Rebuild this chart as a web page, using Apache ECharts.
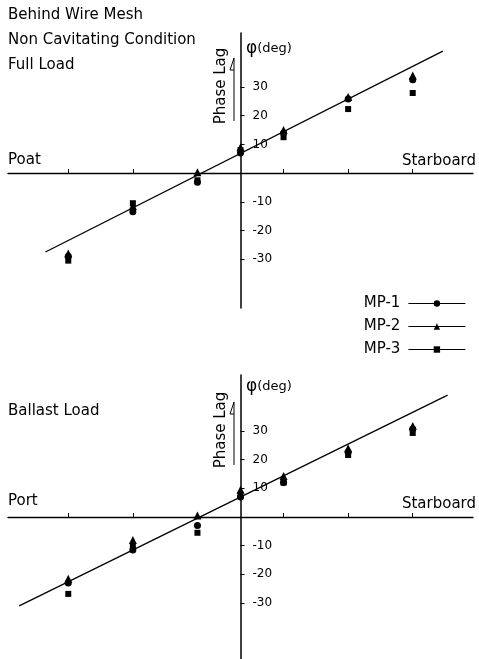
<!DOCTYPE html>
<html>
<head>
<meta charset="utf-8">
<script src="https://cdn.jsdelivr.net/npm/echarts@6/dist/echarts.min.js"></script>
<style>
html,body{margin:0;padding:0;background:#fff;}
#c{width:479px;height:659px;}
</style>
</head>
<body>
<div id="c"></div>
<script>
// Measurement positions (horizontal, port negative / starboard positive)
const xPos = [-40, -25, -10, 0, 10, 25, 40];
const xTicks = [-40, -25, -10, 10, 25, 40];
const yTicks = [-30, -20, -10, 10, 20, 30];
const seriesNames = ['MP-1', 'MP-2', 'MP-3'];

// Full Load (upper chart)
const fullMP1 = [-29, -13.5, -3.2, 7, 14, 25.8, 32.5];
const fullMP2 = [-28, -11.5, 0.3, 9, 15, 26.5, 34];
const fullMP3 = [-30.5, -10.5, -2.5, 8, 12.5, 22.3, 27.9];
const fullFitX = [-45.3, 47];
const fullFitY = [-27.5, 42.5];

// Ballast Load (lower chart)
const ballMP1 = [-23, -11.5, -3, 7, 12, 22.6, 30.7];
const ballMP2 = [-21.5, -8, 0.5, 9.5, 14.3, 24, 31.7];
const ballMP3 = [-26.8, -10, -5.5, 7.5, 12, 21.6, 29.3];
const ballFitX = [-51.4, 48.1];
const ballFitY = [-31, 42.5];

const FONT = 'DejaVu Sans';
const symbols = ['circle', 'triangle', 'rect'];
const symbolSizes = [7, 8, 6];

function pairs(xs, ys) { return xs.map((x, i) => [x, ys[i]]); }

function xAxisCfg(idx) {
  return {
    type: 'value', gridIndex: idx, min: -54, max: 54,
    axisLine: { onZero: true, lineStyle: { color: '#000', width: 1.3 } },
    axisTick: { show: true, inside: true, length: 4, customValues: xTicks, lineStyle: { color: '#000', width: 1 } },
    axisLabel: { show: false },
    splitLine: { show: false }
  };
}
function yAxisCfg(idx, min, max) {
  return {
    type: 'value', gridIndex: idx, min: min, max: max,
    position: 'left', offset: -232.5,
    axisLine: { onZero: false, lineStyle: { color: '#000', width: 1.5 } },
    axisTick: { show: true, inside: true, length: 4, customValues: yTicks, lineStyle: { color: '#000', width: 1 } },
    axisLabel: { show: true, inside: true, margin: 12, customValues: yTicks, color: '#000', fontFamily: FONT, fontSize: 12 },
    splitLine: { show: false }
  };
}

const series = [];
[[fullMP1, fullMP2, fullMP3], [ballMP1, ballMP2, ballMP3]].forEach((set, g) => {
  set.forEach((vals, k) => {
    series.push({
      name: seriesNames[k], type: 'line', xAxisIndex: g, yAxisIndex: g,
      data: pairs(xPos, vals),
      symbol: symbols[k], symbolSize: symbolSizes[k], showSymbol: true,
      itemStyle: { color: '#000', borderWidth: 0 },
      lineStyle: { opacity: 0 },
      z: 3 + k
    });
  });
});
series.push({
  type: 'line', xAxisIndex: 0, yAxisIndex: 0, data: pairs(fullFitX, fullFitY),
  symbol: 'none', lineStyle: { color: '#000', width: 1.3 }, silent: true, z: 2
});
series.push({
  type: 'line', xAxisIndex: 1, yAxisIndex: 1, data: pairs(ballFitX, ballFitY),
  symbol: 'none', lineStyle: { color: '#000', width: 1.3 }, silent: true, z: 2
});

function txt(x, y, s, opts) {
  return {
    type: 'text', x: x, y: y,
    style: Object.assign({ text: s, fill: '#000', font: '15px "' + FONT + '"', align: 'left', verticalAlign: 'middle' }, opts || {})
  };
}
function phiLabel(x, y) {
  return {
    type: 'text', x: x, y: y,
    style: {
      text: '{p|φ}{d|(deg)}', fill: '#000', verticalAlign: 'middle', align: 'left',
      rich: { p: { fontFamily: FONT, fontSize: 17, fill: '#000' }, d: { fontFamily: FONT, fontSize: 13, fill: '#000' } }
    }
  };
}
function phaseLag(cx, cy) {
  return [
    { type: 'text', x: cx, y: cy, rotation: Math.PI / 2,
      style: { text: 'Phase Lag', fill: '#000', font: '15px "' + FONT + '"', align: 'center', verticalAlign: 'middle' } },
    { type: 'line', shape: { x1: 234, y1: cy + 35, x2: 234, y2: cy - 28 }, style: { stroke: '#000', lineWidth: 1 } },
    { type: 'polyline', shape: { points: [[234, cy - 28], [230, cy - 16], [234, cy - 16]] }, style: { stroke: '#000', lineWidth: 1, fill: null } }
  ];
}

const graphic = [
  txt(8, 15, 'Behind Wire Mesh'),
  txt(8, 40, 'Non Cavitating Condition'),
  txt(8, 65, 'Full Load'),
  txt(8, 160, 'Poat'),
  txt(476, 161, 'Starboard', { align: 'right' }),
  phiLabel(246, 49),
  txt(8, 411, 'Ballast Load'),
  txt(8, 501, 'Port'),
  txt(476, 504, 'Starboard', { align: 'right' }),
  phiLabel(246, 387)
].concat(phaseLag(221, 86)).concat(phaseLag(221, 430));

const chart = echarts.init(document.getElementById('c'), null, { renderer: 'canvas' });
chart.setOption({
  animation: false,
  backgroundColor: '#fff',
  grid: [
    { left: 8, right: 6, top: 33, height: 275 },
    { left: 8, right: 6, top: 375, height: 284 }
  ],
  xAxis: [xAxisCfg(0), xAxisCfg(1)],
  yAxis: [yAxisCfg(0, -47, 48.8), yAxisCfg(1, -49.5, 49.5)],
  legend: {
    data: seriesNames, orient: 'vertical', right: 8, top: 291,
    align: 'right', itemWidth: 57, itemHeight: 8, itemGap: 8,
    textStyle: { fontFamily: FONT, fontSize: 15, color: '#000', padding: [0, 3, 0, 0] },
    lineStyle: { color: '#000', width: 1.2, opacity: 1, type: 'solid' },
    itemStyle: { color: '#000' }
  },
  series: series,
  graphic: graphic
});
</script>
</body>
</html>
